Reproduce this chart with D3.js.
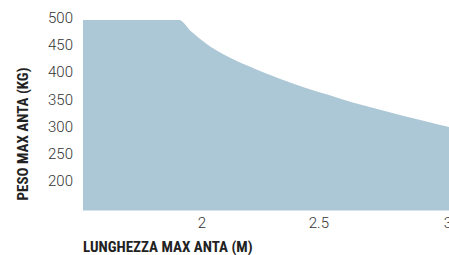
<!DOCTYPE html>
<html>
<head>
<meta charset="utf-8">
<script src="https://cdn.jsdelivr.net/npm/d3@7"></script>
<style>
  body { margin: 0; background: #fff; }
  svg { display: block; }
</style>
</head>
<body>
<div id="chart"></div>
<script>
// lunghezza anta (m) and peso max (kg)
let lunghezza = [1.5, 1.89, 1.94, 2.0, 2.04, 2.1, 2.2, 2.3, 2.4, 2.5, 2.6, 2.7, 2.8, 2.9, 3.0];
let peso = [500, 500, 479, 457, 445, 430, 410, 392, 376, 362, 348, 336, 324, 313, 302];
let yTicks = [200, 250, 300, 350, 400, 450, 500];
let xTicks = [2, 2.5, 3];
let xTitle = "LUNGHEZZA MAX ANTA (M)";
let yTitle = "PESO MAX ANTA (KG)";

let width = 449,
  height = 255;

let data = lunghezza.map((l, i) => ({ l: l, p: peso[i] }));

let svg = d3
  .select("#chart")
  .append("svg")
  .attr("width", width)
  .attr("height", height);

let x = d3.scaleLinear().domain([1.5, 3]).range([83, 452]);
let y = d3.scaleLinear().domain([150, 500]).range([210.5, 20]);

let area = d3
  .area()
  .x((d) => x(d.l))
  .y0(y(150))
  .y1((d) => y(d.p))
  .curve(d3.curveMonotoneX);

svg.append("path").datum(data).attr("d", area).attr("fill", "#acc7d5");

let tickFont = "Roboto, 'Liberation Sans', sans-serif";
let titleFont = "'Liberation Sans Narrow', 'Arial Narrow', 'Roboto Condensed', sans-serif";

svg
  .selectAll(".ytick")
  .data(yTicks)
  .enter()
  .append("text")
  .attr("class", "ytick")
  .attr("x", 73)
  .attr("y", (d) => y(d) + 3)
  .attr("text-anchor", "end")
  .style("font-family", tickFont)
  .style("font-weight", 300)
  .style("font-size", "15px")
  .style("fill", "#333")
  .text((d) => d);

svg
  .selectAll(".xtick")
  .data(xTicks)
  .enter()
  .append("text")
  .attr("class", "xtick")
  .attr("x", (d) => x(d))
  .attr("y", 228)
  .attr("text-anchor", "end")
  .style("font-family", tickFont)
  .style("font-weight", 300)
  .style("font-size", "15px")
  .style("fill", "#333")
  .text((d) => d);

svg
  .append("text")
  .attr("x", 83)
  .attr("y", 252)
  .style("font-family", titleFont)
  .style("font-weight", "bold")
  .style("font-size", "15px")
  .style("fill", "#222")
  .text(xTitle);

svg
  .append("text")
  .attr("transform", "translate(28,134) rotate(-90)")
  .attr("text-anchor", "middle")
  .style("font-family", titleFont)
  .style("font-weight", "bold")
  .style("font-size", "15px")
  .style("fill", "#222")
  .text(yTitle);
</script>
</body>
</html>
